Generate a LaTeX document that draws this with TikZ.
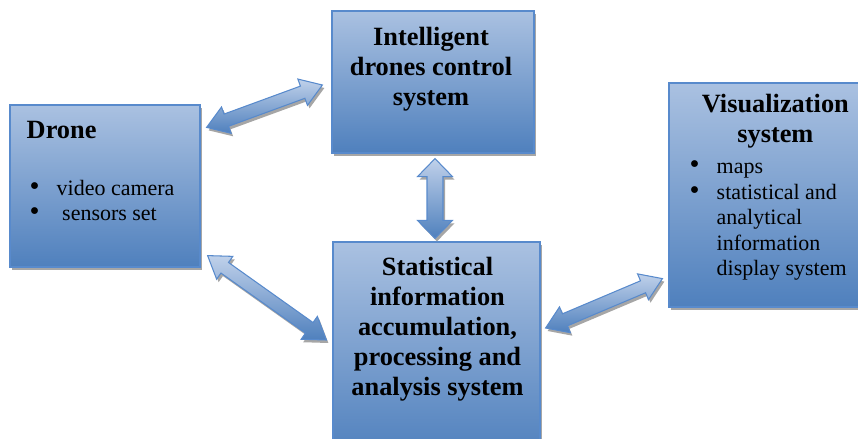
\documentclass[tikz,border=0pt]{standalone}
\usepackage{fontspec}
\setmainfont{Liberation Serif}
\usepackage{xcolor}
\usepackage{graphicx}
\usetikzlibrary{calc, positioning, shadows}
\definecolor{boxtop}{RGB}{170,193,225}
\definecolor{boxbottom}{RGB}{79,128,189}
\definecolor{boxedge}{RGB}{88,138,204}
\definecolor{arrowtop}{RGB}{192,209,234}
\definecolor{arrowbottom}{RGB}{79,128,189}
\tikzset{
  sysbox/.style={
    draw=boxedge, line width=0.7pt,
    top color=boxtop, bottom color=boxbottom,
    drop shadow={shadow xshift=0.03cm, shadow yshift=-0.06cm,
      fill=black, opacity=0.35}
  },
  boxtitle/.style={
    font=\fontsize{15}{17.2}\selectfont\bfseries, inner sep=0pt
  },
  boxlist/.style={
    font=\fontsize{12.5}{14.5}\selectfont, align=left, inner sep=0pt
  },
  linkbody/.style={
    draw=boxedge, line width=0.6pt,
    top color=arrowtop, bottom color=arrowbottom
  },
  linkshadow/.style={
    fill=black!35, transform canvas={xshift=0.04cm, yshift=-0.06cm}
  },
}
\newcommand\bul{\makebox[0.54cm][l]{\smash{\scalebox{1.3}{\textbullet}}}}
% outline of a double block arrow: tips, shaft half width, head half width, head length
\newcommand\linkoutline[4]{(#1) -- ($(ha)!#4!90:(#2)$) -- ($(ha)!#3!90:(#2)$)
  -- ($(hb)!#3!-90:(#1)$) -- ($(hb)!#4!-90:(#1)$) -- (#2)
  -- ($(hb)!#4!90:(#1)$) -- ($(hb)!#3!90:(#1)$)
  -- ($(ha)!#3!-90:(#2)$) -- ($(ha)!#4!-90:(#2)$) -- cycle}
\newcommand\linkarrow[5]{%
  \coordinate (ha) at ($(#1)!#5!(#2)$);
  \coordinate (hb) at ($(#2)!#5!(#1)$);
  \fill[linkshadow] \linkoutline{#1}{#2}{#3}{#4};
  \shade[linkbody] \linkoutline{#1}{#2}{#3}{#4};
}

\begin{document}
\begin{tikzpicture}
  \useasboundingbox (0,0) rectangle (17.16,8.78);

  % the four systems
  \node[sysbox, minimum width=3.8cm, minimum height=3.24cm] (drone) at (2.1,5.06) {};
  \node[sysbox, minimum width=4.04cm, minimum height=2.84cm] (control) at (8.66,7.14) {};
  \node[sysbox, minimum width=4.14cm, minimum height=4.3cm] (stat) at (8.73,1.79) {};
  \node[sysbox, minimum width=4.2cm, minimum height=4.48cm] (vis) at (15.48,4.88) {};

  % texts in the boxes
  \node[boxtitle, anchor=north west] (droneT) at ($(drone.north west)+(0.34,-0.34)$) {Drone};
  \node[boxlist, anchor=north west] (droneL) at ($(drone.north west)+(0.4,-1.45)$)
    {\strut\bul video camera\\\bul\ sensors set};
  \node[boxtitle, align=center, anchor=north] (controlT) at ($(control.north)+(-0.04,-0.33)$)
    {Intelligent\\drones control\\system};
  \node[boxtitle, align=center, anchor=north] (statT) at ($(stat.north)+(0.02,-0.3)$)
    {Statistical\\information\\accumulation,\\processing and\\analysis system};
  \node[boxtitle, align=center, anchor=north] (visT) at ($(vis.north west)+(2.14,-0.22)$)
    {Visualization\\system};
  \node[boxlist, anchor=north west] (visL) at ($(vis.north west)+(0.42,-1.46)$)
    {\strut\bul maps\\\bul statistical and\\\hspace*{0.54cm}analytical\\
     \hspace*{0.54cm}information\\\hspace*{0.54cm}display system};

  % arrow ends
  \coordinate (dc) at ($(drone.north east)+(0.12,-0.46)$);
  \coordinate (cd) at ($(control.west)+(-0.18,-0.06)$);
  \coordinate (cs) at ($(control.south)+(0.04,-0.1)$);
  \coordinate (sc) at ($(cs |- stat.north)+(0,0.06)$);
  \coordinate (ds) at ($(drone.south east)+(0.14,0.24)$);
  \coordinate (sd) at ($(stat.west)+(-0.12,0.19)$);
  \coordinate (sv) at ($(stat.east)+(0.1,0.43)$);
  \coordinate (vs) at ($(vis.south west)+(-0.12,0.58)$);

  % links between the systems
  \linkarrow{dc}{cd}{0.13cm}{0.28cm}{0.42cm}
  \linkarrow{cs}{sc}{0.16cm}{0.35cm}{0.36cm}
  \linkarrow{ds}{sd}{0.13cm}{0.28cm}{0.42cm}
  \linkarrow{sv}{vs}{0.13cm}{0.28cm}{0.42cm}
\end{tikzpicture}
\end{document}
